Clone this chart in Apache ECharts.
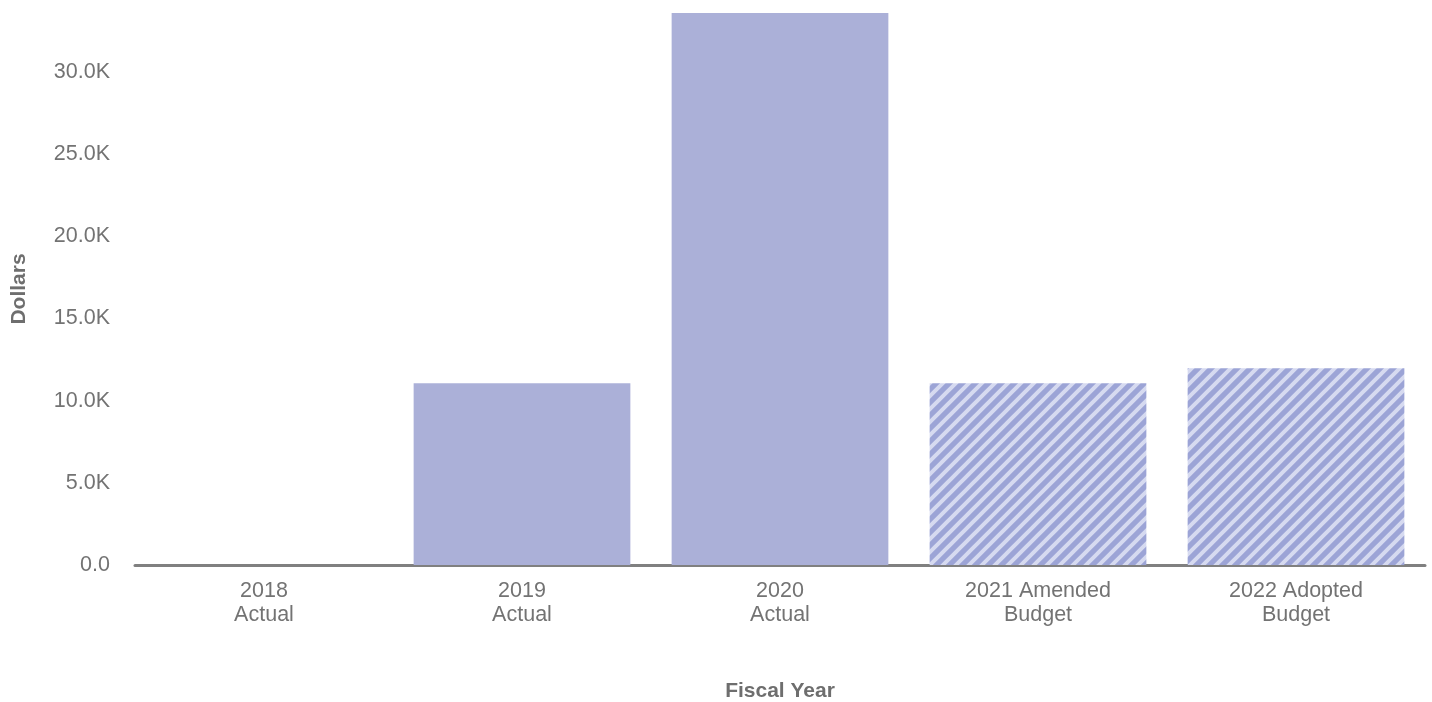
<!DOCTYPE html>
<html>
<head>
<meta charset="utf-8">
<script src="https://cdn.jsdelivr.net/npm/echarts@6/dist/echarts.min.js"></script>
<style>
  html, body { margin: 0; padding: 0; background: #fff; }
  #main { width: 1432px; height: 702px; }
</style>
</head>
<body>
<div id="main"></div>
<script>
var categories = ['2018\nActual', '2019\nActual', '2020\nActual', '2021 Amended\nBudget', '2022 Adopted\nBudget'];
var values = [0, 11070, 33600, 11060, 11980];
var isBudget = [false, false, false, true, true];

var barColor = '#abb0d8';

// hatch tile for the budget bars
function hatch() {
    var s = 13;
    var c = document.createElement('canvas');
    c.width = s;
    c.height = s;
    var ctx = c.getContext('2d');
    ctx.fillStyle = '#9ca4d6';
    ctx.fillRect(0, 0, s, s);
    ctx.strokeStyle = '#d6daf0';
    ctx.lineWidth = 4;
    ctx.beginPath();
    ctx.moveTo(-s / 2, s / 2); ctx.lineTo(s / 2, -s / 2);
    ctx.moveTo(0, s); ctx.lineTo(s, 0);
    ctx.moveTo(s / 2, s * 1.5); ctx.lineTo(s * 1.5, s / 2);
    ctx.stroke();
    return c;
}
var pattern = { image: hatch(), repeat: 'repeat' };

var myChart = echarts.init(document.getElementById('main'));

var barData = values.map(function (v, i) {
    return {
        value: v,
        itemStyle: { color: isBudget[i] ? pattern : barColor }
    };
});

var option = {
    animation: false,
    grid: {
        left: 135,
        right: 7,
        top: 13,
        bottom: 137,
        outerBoundsMode: 'none'
    },
    xAxis: {
        type: 'category',
        data: categories,
        name: 'Fiscal Year',
        nameLocation: 'middle',
        nameGap: 116,
        nameTextStyle: {
            color: '#6e6e6e',
            fontSize: 21,
            fontWeight: 'bold',
            fontFamily: 'Liberation Sans'
        },
        axisLine: {
            show: true,
            lineStyle: { color: '#808080', width: 3 }
        },
        axisTick: { show: false },
        axisLabel: {
            color: '#737373',
            fontSize: 21.5,
            lineHeight: 24,
            margin: 14,
            fontFamily: 'Liberation Sans'
        }
    },
    yAxis: {
        type: 'value',
        min: 0,
        max: 'dataMax',
        interval: 5000,
        name: 'Dollars',
        nameLocation: 'middle',
        nameGap: 105,
        nameTextStyle: {
            color: '#6e6e6e',
            fontSize: 21,
            fontWeight: 'bold',
            fontFamily: 'Liberation Sans'
        },
        axisLine: { show: false },
        axisTick: { show: false },
        splitLine: { show: false },
        axisLabel: {
            color: '#737373',
            fontSize: 21.5,
            margin: 25,
            fontFamily: 'Liberation Sans',
            showMaxLabel: false,
            formatter: function (v) {
                return (v / 1000).toFixed(1) + (v === 0 ? '' : 'K');
            }
        }
    },
    series: [{
        type: 'bar',
        barCategoryGap: '16%',
        data: barData
    }]
};
myChart.setOption(option);
</script>
</body>
</html>
